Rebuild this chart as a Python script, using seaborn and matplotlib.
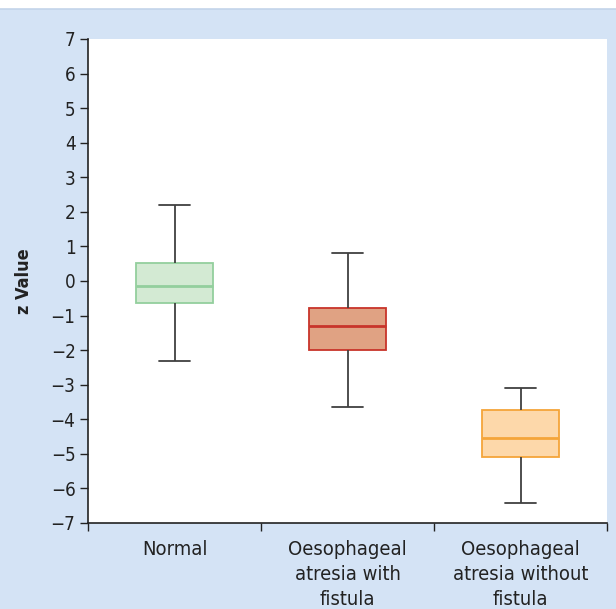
import pandas as pd
import matplotlib.pyplot as plt
import seaborn as sns
from matplotlib.patches import Rectangle
from matplotlib.lines import Line2D

# box statistics: min, q1, median, q3, max
groups = ['Normal', 'Oesophageal\natresia with\nfistula', 'Oesophageal\natresia without\nfistula']
normal = [-2.3, -0.64, -0.14, 0.52, 2.2]
with_fistula = [-3.64, -1.99, -1.3, -0.78, 0.81]
without_fistula = [-6.42, -5.09, -4.54, -3.73, -3.09]

fills = ['#d3ead3', '#e0a283', '#fdd8aa']
edges = ['#93cf9d', '#c8342a', '#f5a53a']

df = pd.DataFrame({
    'group': [groups[0]] * 5 + [groups[1]] * 5 + [groups[2]] * 5,
    'z': normal + with_fistula + without_fistula,
})

sns.set_style('white')
plt.rcParams['font.family'] = ['DejaVu Sans']
plt.rcParams['font.stretch'] = 'condensed'

fig = plt.figure(figsize=(6.16, 6.09), dpi=100)
fig.patch.set_facecolor('white')
top = 1 - 9 / 609
fig.add_artist(Rectangle((0, 0), 1, top, transform=fig.transFigure,
                         facecolor='#d4e3f5', edgecolor='none', zorder=-10))
fig.add_artist(Line2D([0, 1], [top, top], transform=fig.transFigure,
                      color='#c3d4ea', lw=1.2, zorder=-9))
ax = fig.add_axes([88 / 616, 1 - 523 / 609, 519 / 616, 484 / 609])
ax.set_zorder(1)
ax.set_facecolor('white')

sns.boxplot(data=df, x='group', y='z', hue='group', palette=fills, dodge=False,
            saturation=1, whis=(0, 100), width=0.44, legend=False, linewidth=1.3, ax=ax)

for cont, ec in zip(ax.containers, edges):
    for b in cont.boxes:
        b.set_edgecolor(ec)
    for m in cont.medians:
        m.set_color(ec)
        m.set_linewidth(2)
    for w in cont.whiskers:
        w.set_color('#404040')
        w.set_linewidth(1.3)
    for c in cont.caps:
        c.set_color('#404040')
        c.set_linewidth(1.3)
        x0, x1 = c.get_xdata()
        mid = (x0 + x1) / 2
        c.set_xdata([mid - 0.087, mid + 0.087])

ax.set_xlim(-0.5, 2.5)
ax.set_ylim(-7, 7)
ax.set_yticks(range(-7, 8))
ax.set_yticklabels([str(v).replace('-', '\u2212') for v in range(-7, 8)])
ax.set_xticks([-0.5, 0.5, 1.5, 2.5])
ax.set_xticklabels([])
ax.set_xticks([0, 1, 2], minor=True)
ax.set_xticklabels(groups, minor=True, linespacing=1.4)
ax.tick_params(axis='x', which='minor', length=0, pad=12.5, labelsize=14.5, labelcolor='#222222')
ax.tick_params(axis='x', which='major', length=6, width=1, color='#222222', direction='out', bottom=True)
ax.tick_params(axis='y', length=6, width=1, color='#222222', direction='out', left=True,
               labelsize=13.5, pad=3, labelcolor='#222222')

for s in ['top', 'right']:
    ax.spines[s].set_visible(False)
for s in ['left', 'bottom']:
    ax.spines[s].set_color('#222222')
    ax.spines[s].set_linewidth(1.2)

ax.set_xlabel('')
ax.set_ylabel('z Value', fontsize=13, fontweight='bold', labelpad=13, color='#222222')

fig.savefig('out.png', dpi=100)
